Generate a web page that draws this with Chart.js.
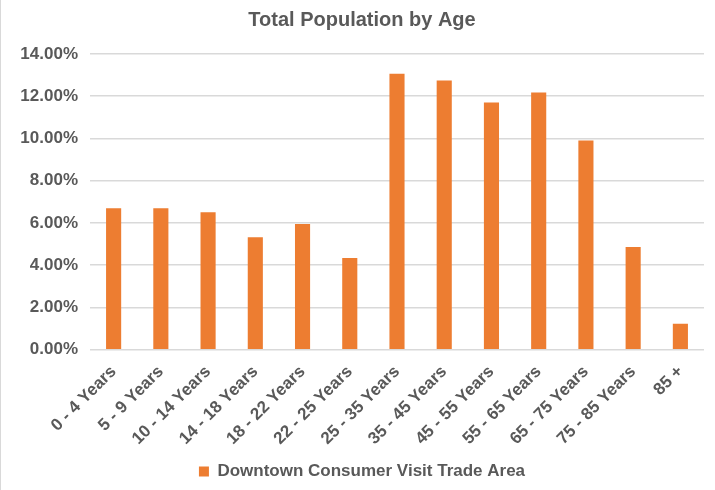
<!DOCTYPE html>
<html>
<head>
<meta charset="utf-8">
<script src="https://cdn.jsdelivr.net/npm/chart.js@4/dist/chart.umd.min.js"></script>
<style>
  html, body { margin: 0; padding: 0; background: #fff; }
  #wrap { position: relative; width: 715px; height: 490px; box-sizing: border-box; border-left: 1px solid #d9d9d9; }
</style>
</head>
<body>
<div id="wrap"><canvas id="canvas"></canvas></div>
<script>
var ageGroups = ['0 - 4 Years', '5 - 9 Years', '10 - 14 Years', '14 - 18 Years', '18 - 22 Years',
  '22 - 25 Years', '25 - 35 Years', '35 - 45 Years', '45 - 55 Years', '55 - 65 Years',
  '65 - 75 Years', '75 - 85 Years', '85 +'];
var populationShare = [6.70, 6.70, 6.51, 5.33, 5.95, 4.34, 13.07, 12.74, 11.70, 12.18, 9.91, 4.86, 1.23];
var seriesName = 'Downtown Consumer Visit Trade Area';
var chartTitle = 'Total Population by Age';

var textGray = '#595959';
var fontFamily = '"Liberation Sans", Arial, sans-serif';

var config = {
  type: 'bar',
  data: {
    labels: ageGroups,
    datasets: [{
      label: seriesName,
      data: populationShare,
      backgroundColor: '#ED7D31',
      borderWidth: 0,
      barPercentage: 0.32,
      categoryPercentage: 1.0
    }]
  },
  options: {
    responsive: true,
    maintainAspectRatio: false,
    animation: false,
    layout: { padding: { left: 19, right: 11, top: 6, bottom: 0 } },
    plugins: {
      title: {
        display: true,
        text: chartTitle,
        color: textGray,
        font: { family: fontFamily, size: 20, weight: 'bold' },
        padding: { top: 2, bottom: 22 }
      },
      legend: {
        position: 'bottom',
        labels: {
          color: textGray,
          font: { family: fontFamily, size: 17, weight: 'bold' },
          boxWidth: 10,
          boxHeight: 10,
          padding: 10
        }
      },
      tooltip: { enabled: false }
    },
    scales: {
      x: {
        grid: { display: false },
        border: { display: false },
        afterFit: function (scale) { scale.paddingLeft = 0; scale.paddingRight = 0; },
        ticks: {
          color: textGray,
          font: { family: fontFamily, size: 17, weight: 'bold' },
          minRotation: 45,
          maxRotation: 45,
          autoSkip: false,
          padding: 4
        }
      },
      y: {
        min: 0,
        max: 14,
        grid: { color: '#d9d9d9', lineWidth: 1.5, drawTicks: false },
        border: { display: false },
        afterFit: function (scale) { scale.width = 70; },
        ticks: {
          stepSize: 2,
          color: textGray,
          padding: 12,
          font: { family: fontFamily, size: 17, weight: 'bold' },
          callback: function (v) { return v.toFixed(2) + '%'; }
        }
      }
    }
  }
};

var ctx;
var popChart;

window.onload = function main() {
  ctx = document.getElementById('canvas').getContext('2d');
  popChart = new Chart(ctx, config);
};
</script>
</body>
</html>
